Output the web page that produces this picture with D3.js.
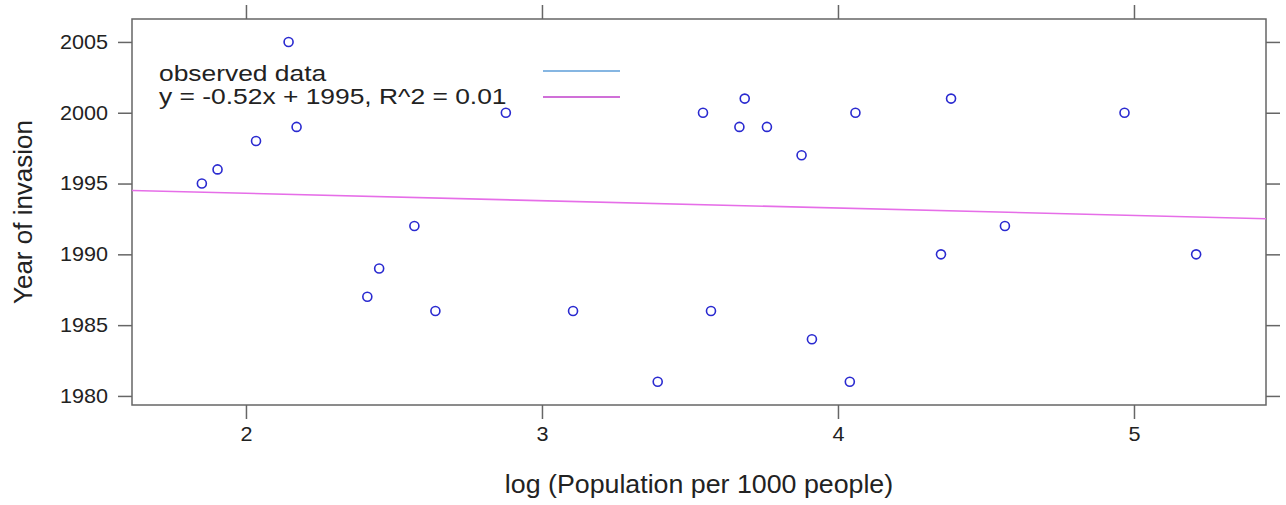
<!DOCTYPE html>
<html>
<head>
<meta charset="utf-8">
<script src="https://cdn.jsdelivr.net/npm/d3@7"></script>
<style>
  html, body { margin: 0; padding: 0; background: #fff; }
  svg { display: block; font-family: "Liberation Sans", Arial, sans-serif; }
</style>
</head>
<body>
<svg id="chart" width="1286" height="505"></svg>
<script>
// ---- data ----
const logPopulation = [2.144, 2.878, 2.171, 2.034, 1.904, 1.851, 2.569, 2.45, 2.41, 2.64, 3.105,
  3.544, 3.685, 3.667, 3.760, 3.877, 4.059, 4.382, 4.968, 4.564, 4.348, 5.21,
  3.571, 3.912, 3.391, 4.04];
const yearOfInvasion = [2005, 2000, 1999, 1998, 1996, 1995, 1992, 1989, 1987, 1986, 1986,
  2000, 2001, 1999, 1999, 1997, 2000, 2001, 2000, 1992, 1990, 1990,
  1986, 1984, 1981, 1981];
const fitSlope = -0.52;
const fitIntercept = 1995.35;
const xTicks = [2, 3, 4, 5];
const yTicks = [1980, 1985, 1990, 1995, 2000, 2005];
const legendLabels = ["observed data", "y = -0.52x + 1995, R^2 = 0.01"];
const xTitle = "log (Population per 1000 people)";
const yTitle = "Year of invasion";

// ---- layout ----
const L = 132, R = 1266, T = 19, B = 405;
const svg = d3.select("#chart");
const x = d3.scaleLinear().domain([1.615, 5.446]).range([L, R]);
const y = d3.scaleLinear().domain([1979.36, 2006.62]).range([B, T]);

const frameCol = "#666";
const textCol = "#222";
const tickSx = 1.08;

function styleAxis(g) {
  g.select(".domain").remove();
  g.selectAll(".tick line").attr("stroke", frameCol).attr("stroke-width", 1.5);
  g.selectAll(".tick text").attr("fill", textCol).attr("font-size", 20)
    .attr("font-family", "Liberation Sans, Arial, sans-serif")
    .attr("transform", `scale(${tickSx},1)`)
    .attr("x", function () { return (+d3.select(this).attr("x") || 0) / tickSx; });
}

// bottom axis
svg.append("g").attr("transform", `translate(0,${B})`)
  .call(d3.axisBottom(x).tickValues(xTicks).tickFormat(d3.format("d")).tickSize(14).tickPadding(8))
  .call(styleAxis);
// top axis (ticks only)
svg.append("g").attr("transform", `translate(0,${T})`)
  .call(d3.axisTop(x).tickValues(xTicks).tickFormat("").tickSize(14))
  .call(styleAxis);
// left axis
svg.append("g").attr("transform", `translate(${L},0)`)
  .call(d3.axisLeft(y).tickValues(yTicks).tickFormat(d3.format("d")).tickSize(14).tickPadding(10))
  .call(styleAxis);
// right axis (ticks only)
svg.append("g").attr("transform", `translate(${R},0)`)
  .call(d3.axisRight(y).tickValues(yTicks).tickFormat("").tickSize(14))
  .call(styleAxis);

// frame
svg.append("rect").attr("x", L).attr("y", T).attr("width", R - L).attr("height", B - T)
  .attr("fill", "none").attr("stroke", frameCol).attr("stroke-width", 1.5);

// regression line
const xd = x.domain();
svg.append("line")
  .attr("x1", x(xd[0])).attr("y1", y(fitIntercept + fitSlope * xd[0]))
  .attr("x2", x(xd[1])).attr("y2", y(fitIntercept + fitSlope * xd[1]))
  .attr("stroke", "#e66ee8").attr("stroke-width", 1.6);

// points
svg.append("g").selectAll("circle")
  .data(logPopulation.map((v, i) => [v, yearOfInvasion[i]]))
  .join("circle")
  .attr("cx", d => x(d[0])).attr("cy", d => y(d[1])).attr("r", 4.5)
  .attr("fill", "none").attr("stroke", "#2a2ad0").attr("stroke-width", 1.6);

// legend
const legendColors = ["#86b6e2", "#d070d8"];
const leg = svg.append("g");
legendLabels.forEach((lab, i) => {
  leg.append("text").attr("transform", `translate(159,${81 + i * 23}) scale(1.2,1)`)
    .attr("font-size", 22).attr("fill", textCol).text(lab);
  leg.append("line").attr("x1", 543).attr("x2", 620)
    .attr("y1", 71 + i * 26).attr("y2", 71 + i * 26)
    .attr("stroke", legendColors[i]).attr("stroke-width", 2);
});

// axis titles
svg.append("text").attr("transform", `translate(${(L + R) / 2},493) scale(1.03,1)`)
  .attr("text-anchor", "middle")
  .attr("font-size", 26).attr("fill", textCol).text(xTitle);
svg.append("text").attr("transform", `translate(32,${(T + B) / 2}) rotate(-90)`)
  .attr("text-anchor", "middle").attr("font-size", 26).attr("fill", textCol).text(yTitle);
</script>
</body>
</html>
